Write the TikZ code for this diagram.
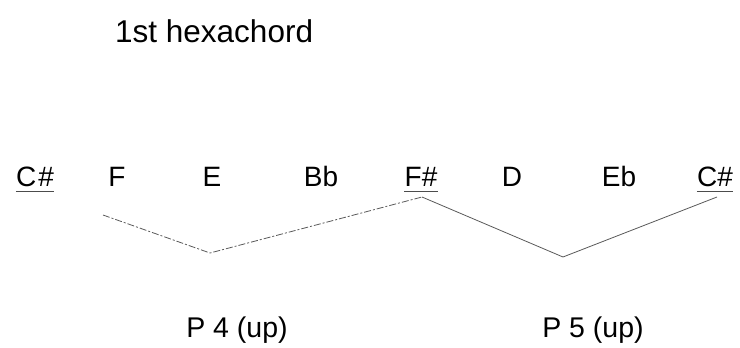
\documentclass[tikz,border=0pt]{standalone}
\usepackage{fontspec}
\setmainfont{Liberation Sans}
\begin{document}
\begin{tikzpicture}[x=1pt,y=-1pt,
  title/.style={anchor=base west,inner sep=0pt,font=\fontsize{31.5}{36}\selectfont},
  note/.style={anchor=base,inner sep=0pt,font=\fontsize{28}{32}\selectfont},
  interval/.style={anchor=base,inner sep=0pt,font=\fontsize{28.5}{32}\selectfont},
  contour/.style={draw=black!65,line width=0.8pt},
  brokenline/.style={contour,dash pattern=on 7pt off 2pt on 2pt off 2pt},
  underbar/.style={draw=black!70,line width=0.9pt}]
\useasboundingbox (0,0) rectangle (740,348);

% heading
\node[title] (head) at (115,42) {1st hexachord};

% pitch row
\node[note] (n0) at (35,186) {C\kern2pt\#};
\node[note] (n1) at (117,186) {F};
\node[note] (n2) at (212,186) {E};
\node[note] (n3) at (321,186) {Bb};
\node[note] (n4) at (421,186) {F\#};
\node[note] (n5) at (512,186) {D};
\node[note] (n6) at (619,186) {Eb};
\node[note] (n7) at (715,186) {C\#};

% underlined pivot pitches
\foreach \n in {n0,n4,n7}
  \draw[underbar] ([yshift=-5pt]\n.base west) -- ([yshift=-5pt]\n.base east);

% contour vertices
\coordinate (a) at (103,215);
\coordinate (b) at (210,253);
\coordinate (c) at (422,197);
\coordinate (d) at (563,257);
\coordinate (e) at (717,197);

\draw[brokenline] (a) -- (b) -- (c);
\draw[contour] (c) -- (d) -- (e);

% interval labels
\node[interval] (p4) at (237,337) {P 4 (up)};
\node[interval] (p5) at (593,337) {P 5 (up)};
\end{tikzpicture}
\end{document}
